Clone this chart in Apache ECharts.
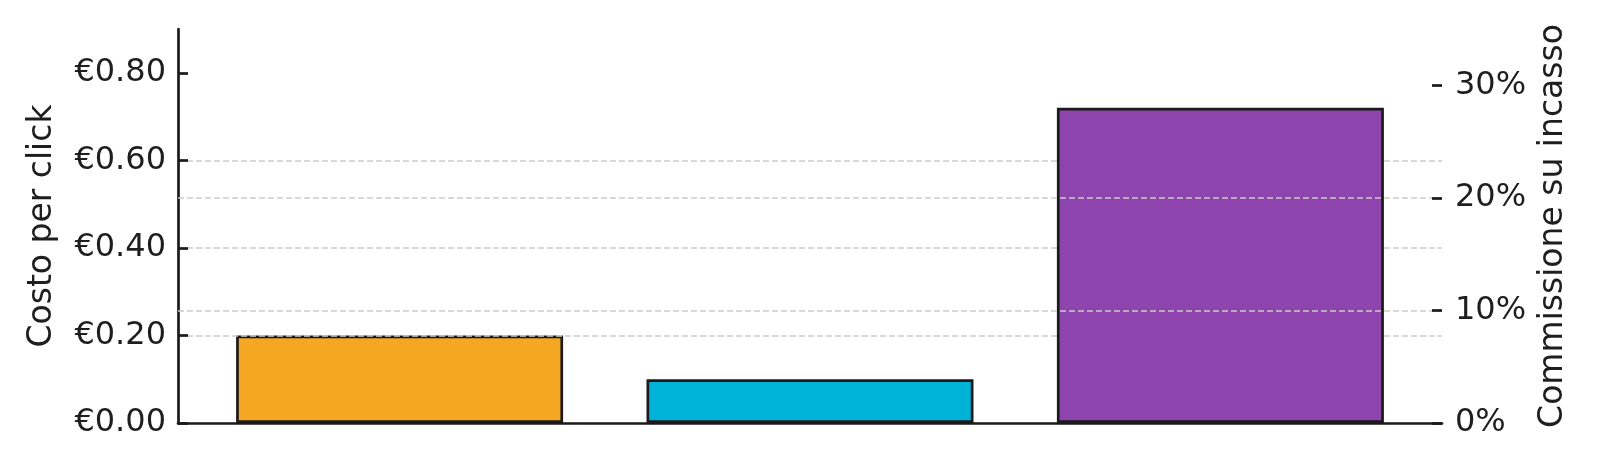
<!DOCTYPE html>
<html>
<head>
<meta charset="utf-8">
<script src="https://cdn.jsdelivr.net/npm/echarts@6/dist/echarts.min.js"></script>
<style>
html,body{margin:0;padding:0;background:#fff;}
#chart{width:1600px;height:472px;}
</style>
</head>
<body>
<div id="chart"></div>
<script>
// ---- data ----
const categories = ['Piattaforma A', 'Piattaforma B', 'Piattaforma C'];
const costoPerClick = [0.20, 0.10, null];      // € per click (left axis)
const commissione = [null, null, 28];          // % commission (right axis)
const leftTicks = [0, 0.2, 0.4, 0.6, 0.8];
const rightTicks = [0, 10, 20, 30];
const barColors = ['#F5A623', '#00B2D8', '#8E44AD'];

// ---- build ----
const textColor = '#1e1e1e';
const edge = '#1a1a1a';
const font = 'DejaVu Sans';
const fs = 32;
const fsTitle = 33;
const lw = 2.7;

const cpcData = [];
costoPerClick.forEach((v, i) => {
  if (v !== null) cpcData.push({ value: [i, v], itemStyle: { color: barColors[i] } });
});
const comData = [];
commissione.forEach((v, i) => {
  if (v !== null) comData.push({ value: [i, v], itemStyle: { color: barColors[i] } });
});

const chart = echarts.init(document.getElementById('chart'), null, { renderer: 'canvas' });
chart.setOption({
  animation: false,
  textStyle: { fontFamily: font },
  grid: { left: 178, right: 158, top: 29, bottom: 49 },
  xAxis: {
    type: 'value',
    min: -0.54,
    max: categories.length - 1 + 0.54,
    axisLine: { show: true, onZero: false, lineStyle: { color: edge, width: lw } },
    axisTick: { show: false },
    axisLabel: { show: false },
    splitLine: { show: false }
  },
  yAxis: [
    {
      type: 'value',
      z: 3,
      min: 0, max: 0.9, interval: 0.2,
      name: 'Costo per click',
      nameLocation: 'middle',
      nameRotate: 90,
      nameGap: 119,
      nameTextStyle: { fontSize: fsTitle, color: textColor, fontFamily: font },
      axisLine: { show: true, onZero: false, lineStyle: { color: edge, width: lw } },
      axisTick: { show: true, inside: true, length: 10, customValues: leftTicks, lineStyle: { color: edge, width: lw } },
      axisLabel: {
        customValues: leftTicks,
        margin: 12,
        fontSize: fs,
        color: textColor,
        fontFamily: font,
        formatter: v => '€' + v.toFixed(2)
      },
      splitLine: { show: true, showMinLine: false, showMaxLine: false, lineStyle: { color: '#cccccc', width: 1.6, type: [6, 3] } }
    },
    {
      type: 'value',
      position: 'right',
      z: 5,
      min: 0, max: 35, interval: 10,
      name: 'Commissione su incasso',
      nameLocation: 'middle',
      nameRotate: 90,
      nameGap: 95,
      nameTextStyle: { fontSize: fsTitle, color: textColor, fontFamily: font },
      axisLine: { show: false, onZero: false },
      axisTick: { show: true, inside: true, length: 10, customValues: rightTicks, lineStyle: { color: edge, width: lw } },
      axisLabel: {
        customValues: rightTicks,
        margin: 13,
        fontSize: fs,
        color: textColor,
        fontFamily: font,
        formatter: v => v + '%'
      },
      splitLine: { show: true, showMinLine: false, showMaxLine: false, lineStyle: { color: '#cccccc', width: 1.6, type: [6, 3] } }
    }
  ],
  series: [
    {
      name: 'Costo per click',
      type: 'bar',
      yAxisIndex: 0,
      z: 2,
      barWidth: 327,
      barGap: '-100%',
      itemStyle: { borderColor: edge, borderWidth: lw },
      data: cpcData
    },
    {
      name: 'Commissione su incasso',
      type: 'bar',
      yAxisIndex: 1,
      z: 4,
      barWidth: 327,
      barGap: '-100%',
      itemStyle: { borderColor: edge, borderWidth: lw },
      data: comData
    }
  ]
});
</script>
</body>
</html>
